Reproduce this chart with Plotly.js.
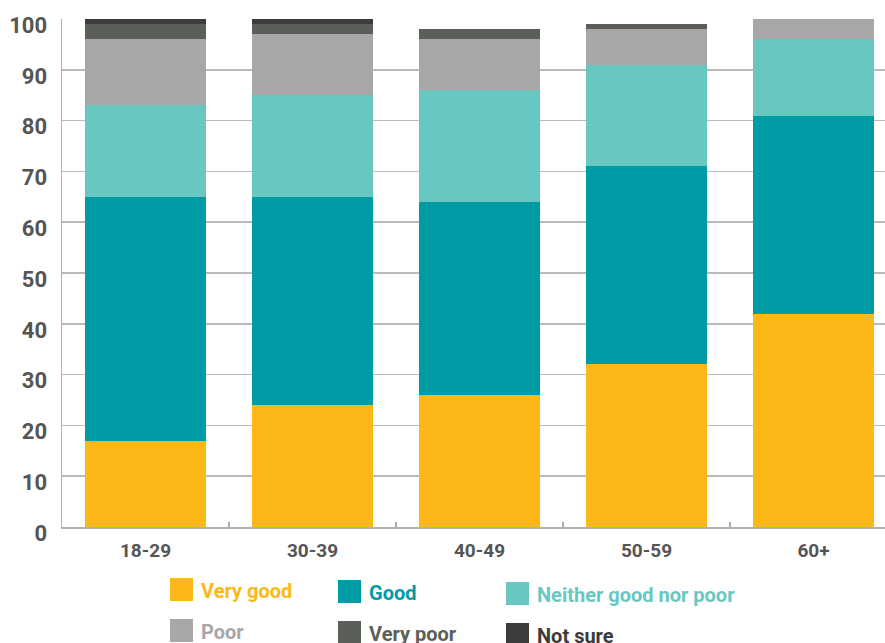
<!DOCTYPE html>
<html>
<head>
<meta charset="utf-8">
<script src="https://cdn.plot.ly/plotly-3.0.1.min.js"></script>
<style>html,body{margin:0;padding:0;background:#fff;}#chart{width:885px;height:643px;}</style>
</head>
<body>
<div id="chart"></div>
<script>
const categories = ["18-29", "30-39", "40-49", "50-59", "60+"];
const veryGood = [17, 24, 26, 32, 42];
const good = [48, 41, 38, 39, 39];
const neither = [18, 20, 22, 20, 15];
const poor = [13, 12, 10, 7, 4];
const veryPoor = [3, 2, 2, 1, 0];
const notSure = [1, 1, 0, 0, 0];
const seriesNames = ["Very good", "Good", "Neither good nor poor", "Poor", "Very poor", "Not sure"];
const yTicks = [0, 10, 20, 30, 40, 50, 60, 70, 80, 90, 100];

const colors = ["#FBB817", "#009CA6", "#69C7C2", "#A8A6A7", "#5A5F59", "#3C3C3C"];
const seriesValues = [veryGood, good, neither, poor, veryPoor, notSure];

const W = 885, H = 643;
const M = {l: 62, r: 0, t: 19, b: 116};
const plotW = W - M.l - M.r, plotH = H - M.t - M.b;
const catPx = 167;

const traces = seriesValues.map((vals, i) => ({
  type: "bar",
  name: seriesNames[i],
  x: categories,
  y: vals,
  marker: {color: colors[i], line: {width: 0}},
  showlegend: false,
  hoverinfo: "x+y+name"
}));

// custom legend in pixel space converted to paper coords
const px2x = px => (px - M.l) / plotW;
const py2y = py => (H - M.b - py) / plotH;
const legCols = [170, 338, 506];
const legRows = [578, 619];
const sw = 23, sh = 23;
const shapes = [], annotations = [];
seriesNames.forEach((name, i) => {
  const c = i % 3, r = Math.floor(i / 3);
  const x0 = legCols[c], y0 = legRows[r] + c * 2;
  shapes.push({type: "rect", xref: "paper", yref: "paper",
    x0: px2x(x0), x1: px2x(x0 + sw), y0: py2y(y0), y1: py2y(y0 + sh),
    fillcolor: colors[i], line: {width: 0}});
  annotations.push({xref: "paper", yref: "paper", x: px2x(x0 + 29), y: py2y(y0 + sh / 2 + 1),
    xanchor: "left", yanchor: "middle", showarrow: false, text: name,
    font: {family: "Roboto, sans-serif", size: 20, weight: 700, color: colors[i]}});
});

const layout = {
  width: W, height: H,
  margin: M,
  paper_bgcolor: "#fff", plot_bgcolor: "#fff",
  barmode: "stack",
  bargap: 0.275,
  showlegend: false,
  xaxis: {
    type: "category",
    range: [-0.5, -0.5 + plotW / catPx],
    tickson: "boundaries",
    ticks: "inside", ticklen: 5, tickwidth: 1.2, tickcolor: "#aaaaaa",
    showline: true, linecolor: "#b0b0b0", linewidth: 1.5,
    showgrid: false, zeroline: false,
    ticklabelstandoff: 6,
    tickfont: {family: "Roboto, sans-serif", size: 19, weight: 700, color: "#555555"},
    fixedrange: true
  },
  yaxis: {
    range: [0, 100],
    tickvals: yTicks,
    ticktext: yTicks.map(String),
    ticks: "",
    showline: true, linecolor: "#b0b0b0", linewidth: 1.5,
    showgrid: true, gridcolor: "#bbbbbb", gridwidth: 1.5,
    zeroline: false,
    ticklabelstandoff: 9,
    ticklabelshift: 6,
    tickfont: {family: "Roboto, sans-serif", size: 22, weight: 700, color: "#555555"},
    fixedrange: true
  },
  shapes: shapes,
  annotations: annotations
};

Plotly.newPlot("chart", traces, layout, {displayModeBar: false, staticPlot: true});
</script>
</body>
</html>
